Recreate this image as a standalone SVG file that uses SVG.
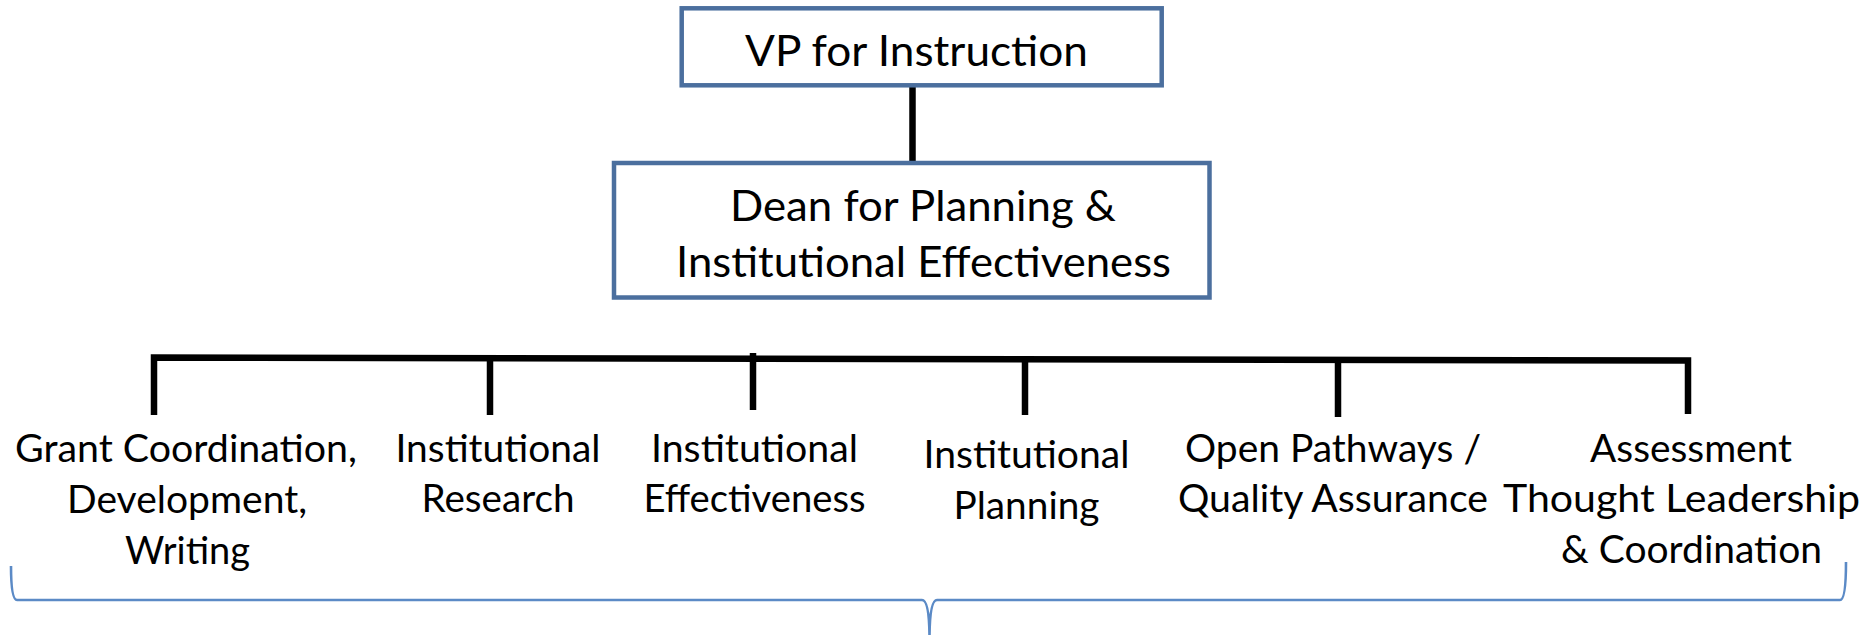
<svg xmlns="http://www.w3.org/2000/svg" width="1873" height="635" viewBox="0 0 1873 635">
  <style>
    .box { fill: #ffffff; stroke: #4B6F9E; stroke-width: 4.5; }
    .title { font-family: Lato, "Liberation Sans", sans-serif; font-size: 43px; fill: #000000; text-anchor: middle; }
    .label { font-family: Lato, "Liberation Sans", sans-serif; font-size: 39.5px; fill: #000000; text-anchor: middle; }
    .wire { stroke: #000000; stroke-width: 6.5; fill: none; stroke-linecap: butt; }
    .brace { stroke: #5B8AC6; stroke-width: 2.6; fill: none; }
  </style>

  <!-- connectors -->
  <g id="connectors">
    <line class="wire" x1="912.5" y1="87" x2="912.5" y2="161"/>
    <path class="wire" d="M154 415 V357.5 L1688 360.5 V414"/>
    <line class="wire" x1="490" y1="358" x2="490" y2="415"/>
    <line class="wire" x1="753" y1="353" x2="753" y2="410"/>
    <line class="wire" x1="1025" y1="359" x2="1025" y2="415"/>
    <line class="wire" x1="1338" y1="359.5" x2="1338" y2="417"/>
  </g>

  <!-- top box -->
  <g id="vp-instruction">
    <rect class="box" x="681.7" y="8.3" width="480" height="77"/>
    <text class="title" x="916.5" y="65.7" textLength="343" lengthAdjust="spacingAndGlyphs">VP for Instruction</text>
  </g>

  <!-- second box -->
  <g id="dean-planning">
    <rect class="box" x="614" y="163" width="595.5" height="134.5"/>
    <text class="title" x="923" y="220.7" textLength="386" lengthAdjust="spacingAndGlyphs">Dean for Planning &amp;</text>
    <text class="title" x="923.5" y="276.7" textLength="495" lengthAdjust="spacingAndGlyphs">Institutional Effectiveness</text>
  </g>

  <!-- units -->
  <g id="grant-coordination">
    <text class="label" x="186" y="462" textLength="342" lengthAdjust="spacingAndGlyphs">Grant Coordination,</text>
    <text class="label" x="187" y="513" textLength="240" lengthAdjust="spacingAndGlyphs">Development,</text>
    <text class="label" x="187.5" y="564" textLength="125" lengthAdjust="spacingAndGlyphs">Writing</text>
  </g>

  <g id="institutional-research">
    <text class="label" x="498" y="462" textLength="205" lengthAdjust="spacingAndGlyphs">Institutional</text>
    <text class="label" x="498" y="512" textLength="153" lengthAdjust="spacingAndGlyphs">Research</text>
  </g>

  <g id="institutional-effectiveness">
    <text class="label" x="754.5" y="462" textLength="207" lengthAdjust="spacingAndGlyphs">Institutional</text>
    <text class="label" x="754.5" y="512" textLength="222" lengthAdjust="spacingAndGlyphs">Effectiveness</text>
  </g>

  <g id="institutional-planning">
    <text class="label" x="1026.5" y="468" textLength="206" lengthAdjust="spacingAndGlyphs">Institutional</text>
    <text class="label" x="1026.5" y="519" textLength="146" lengthAdjust="spacingAndGlyphs">Planning</text>
  </g>

  <g id="open-pathways">
    <text class="label" x="1333" y="462" textLength="296" lengthAdjust="spacingAndGlyphs">Open Pathways /</text>
    <text class="label" x="1333" y="512" textLength="310" lengthAdjust="spacingAndGlyphs">Quality Assurance</text>
  </g>

  <g id="assessment">
    <text class="label" x="1691" y="462" textLength="202" lengthAdjust="spacingAndGlyphs">Assessment</text>
    <text class="label" x="1681.5" y="512" textLength="357" lengthAdjust="spacingAndGlyphs">Thought Leadership</text>
    <text class="label" x="1691.5" y="563" textLength="261" lengthAdjust="spacingAndGlyphs">&amp; Coordination</text>
  </g>

  <!-- brace grouping all units -->
  <path class="brace" d="M11 566 Q11 600 17 600 L922 600 Q929 600 929.5 635 Q930 600 937 600 L1840 600 Q1846 600 1846 562"/>
</svg>
